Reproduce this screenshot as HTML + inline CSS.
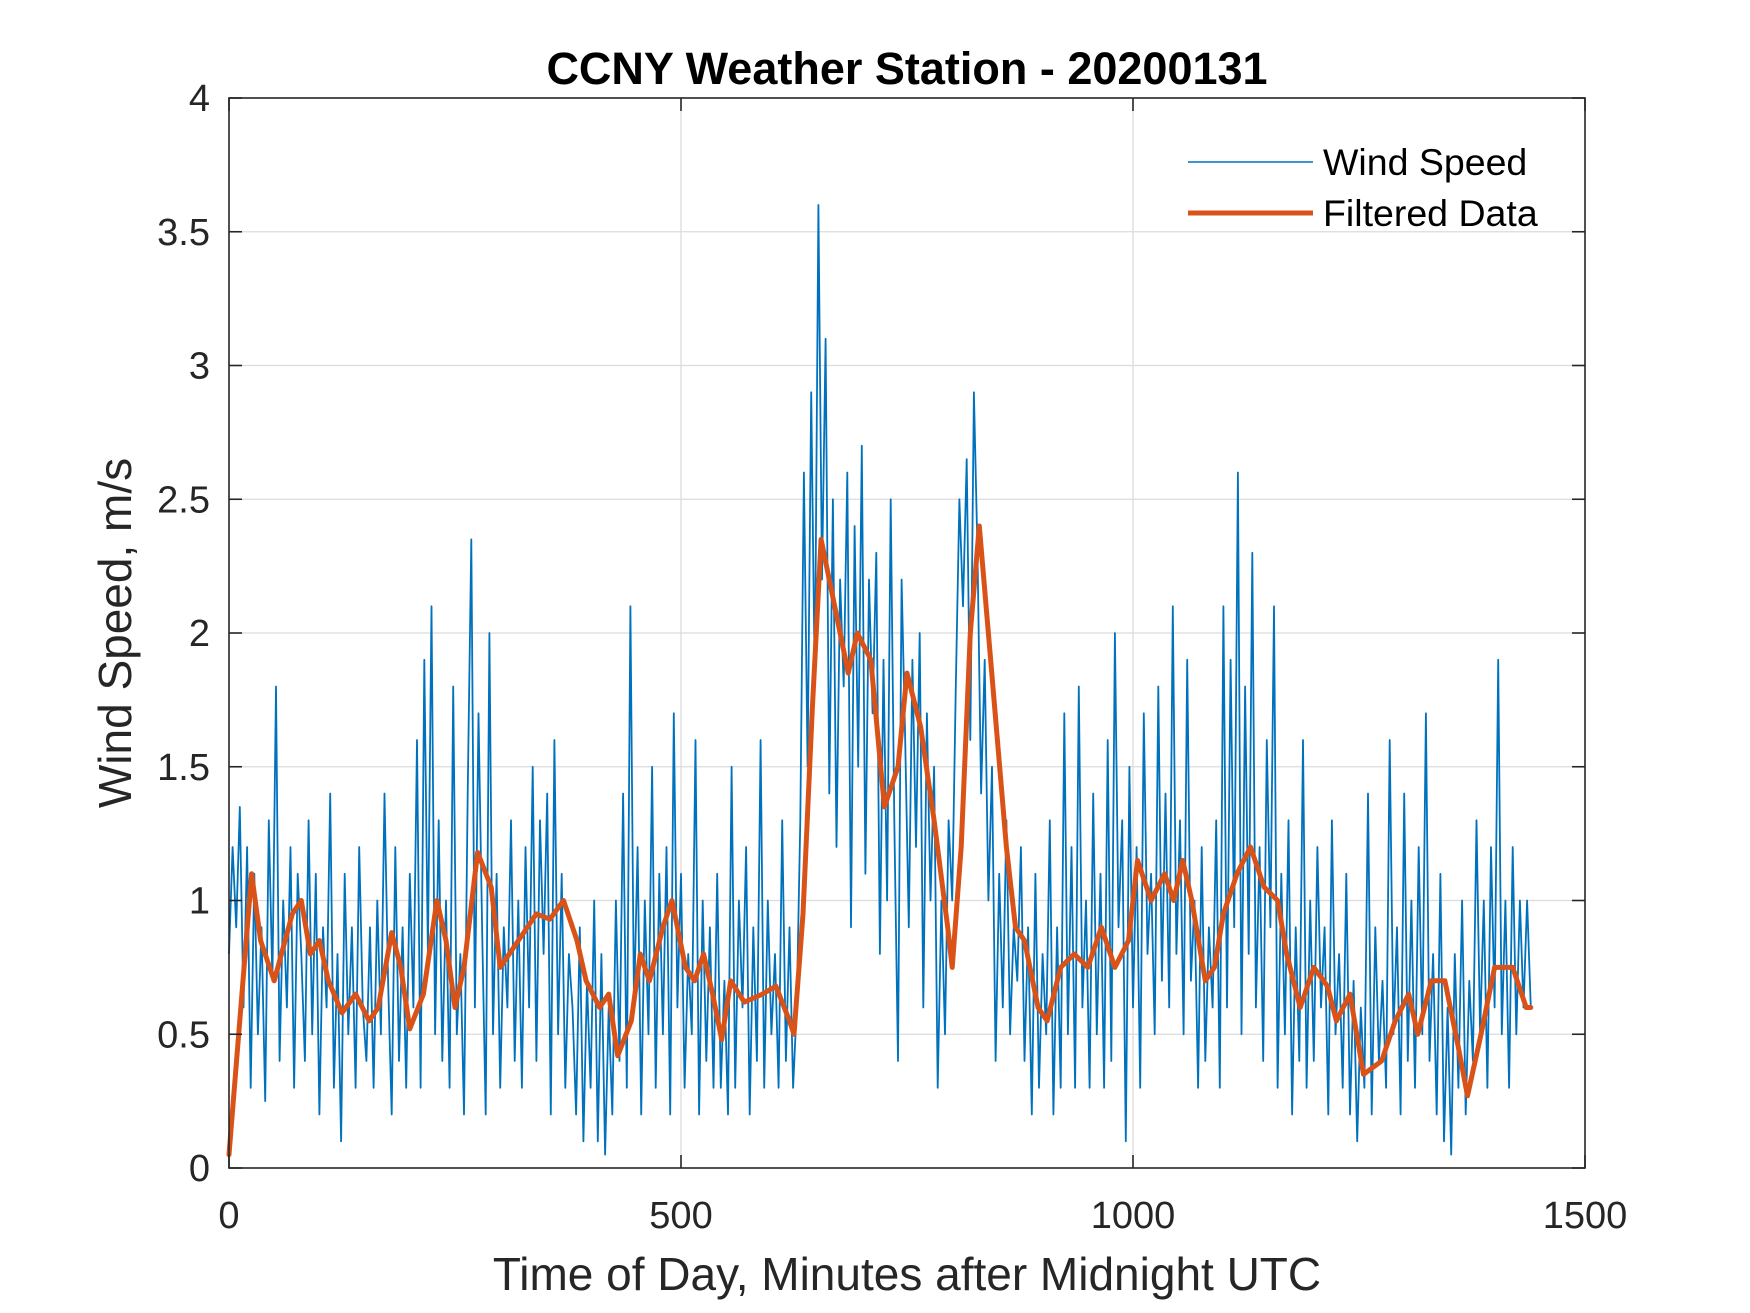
<!DOCTYPE html>
<html><head><meta charset="utf-8"><style>
html,body{margin:0;padding:0;background:#fff;}
svg{display:block;font-family:"Liberation Sans",Arial,sans-serif;}
</style></head><body>
<svg id="chart" width="1750" height="1313" viewBox="0 0 1750 1313">
<rect x="0" y="0" width="1750" height="1313" fill="#fff"/>
<g id="grid"></g>
<g id="series"></g>
<rect x="229" y="98" width="1356" height="1070" fill="none" stroke="#262626" stroke-width="1.6"/>
<g id="ticks"></g>
<text x="907" y="84" text-anchor="middle" font-size="45" font-weight="bold" fill="#000">CCNY Weather Station - 20200131</text>
<text x="907" y="1290" text-anchor="middle" font-size="46" fill="#262626">Time of Day, Minutes after Midnight UTC</text>
<text transform="translate(131,633) rotate(-90)" text-anchor="middle" font-size="46" fill="#262626">Wind Speed, m/s</text>
<g>
<line x1="1188" y1="162" x2="1313" y2="162" stroke="#0072BD" stroke-width="1.6"/>
<text x="1323" y="175" font-size="37.5" fill="#000">Wind Speed</text>
<line x1="1188" y1="213" x2="1313" y2="213" stroke="#D95319" stroke-width="5"/>
<text x="1323" y="226" font-size="37.5" fill="#000">Filtered Data</text>
</g>
</svg>
<script>
const xTicks=[0,500,1000,1500];
const yTicks=[0,0.5,1,1.5,2,2.5,3,3.5,4];
const yTickLabels=["0","0.5","1","1.5","2","2.5","3","3.5","4"];
const windStep=4;
const windValues=[
0.8,1.2,0.9,1.35,0.6,1.2,0.3,1.1,0.5,0.9,0.25,1.3,0.7,1.8,0.4,1.0,0.6,1.2,0.3,1.1,
0.8,0.4,1.3,0.5,1.1,0.2,0.9,0.6,1.4,0.3,0.8,0.1,1.1,0.5,0.9,0.3,1.2,0.6,0.4,0.9,
0.3,1.0,0.5,1.4,0.7,0.2,1.2,0.4,0.9,0.3,1.1,0.6,1.6,0.3,1.9,0.8,2.1,0.5,1.3,0.4,
1.0,0.3,1.8,0.5,0.8,0.2,1.4,2.35,0.6,1.7,0.9,0.2,2.0,0.5,1.1,0.3,0.9,0.6,1.3,0.4,
1.0,0.3,1.2,0.6,1.5,0.4,1.3,0.8,1.4,0.2,1.6,0.5,1.1,0.3,0.8,0.6,0.2,0.9,0.1,0.7,
0.3,1.0,0.1,0.8,0.05,0.6,0.2,1.0,0.4,1.4,0.3,2.1,0.6,1.2,0.2,1.0,0.5,1.5,0.3,1.1,
0.5,1.2,0.2,1.7,0.6,1.1,0.3,0.8,0.5,1.6,0.2,1.0,0.4,0.9,0.3,1.1,0.3,0.7,0.2,1.5,
0.3,1.0,0.6,1.2,0.2,0.9,0.4,1.6,0.3,1.0,0.5,0.8,0.3,1.3,0.4,0.9,0.3,0.6,1.3,2.6,
1.5,2.9,1.8,3.6,2.2,3.1,1.4,2.5,1.2,2.2,1.8,2.6,0.9,2.4,1.5,2.7,1.1,2.2,1.7,2.3,
0.8,1.9,1.0,2.5,1.3,0.4,2.2,1.6,0.9,1.9,1.2,2.0,0.6,1.7,1.0,1.5,0.3,1.0,0.5,1.3,
1.0,1.8,2.5,2.1,2.65,1.6,2.9,2.3,1.4,1.9,1.0,1.5,0.4,1.1,0.6,1.3,0.5,0.9,0.7,1.2,
0.4,0.9,0.2,1.1,0.3,0.8,0.5,1.3,0.2,0.9,0.3,1.7,0.5,1.2,0.3,1.8,0.6,1.0,0.3,1.4,
0.5,1.1,0.3,1.6,0.4,2.0,0.9,1.3,0.1,1.5,0.6,1.2,0.3,1.7,0.8,1.1,0.5,1.8,0.7,1.4,
0.6,2.1,0.8,1.3,0.5,1.9,0.7,1.0,0.3,1.2,0.4,0.9,0.6,1.3,0.3,2.1,0.6,1.9,0.9,2.6,
0.5,1.8,0.8,2.3,0.6,1.2,0.4,1.6,0.9,2.1,0.3,1.1,0.5,1.3,0.2,0.9,0.4,1.6,0.3,1.0,
0.4,1.2,0.6,0.9,0.2,1.3,0.5,0.8,0.3,1.1,0.2,0.7,0.1,0.6,0.3,1.4,0.2,0.9,0.4,0.7,
0.3,1.6,0.5,0.9,0.2,1.4,0.4,1.0,0.3,1.2,0.5,1.7,0.4,0.8,0.2,1.1,0.1,0.6,0.05,0.8,
0.3,1.0,0.2,0.7,0.4,1.3,0.5,1.0,0.3,1.2,0.6,1.9,0.5,1.0,0.3,1.2,0.5,1.0,0.6,1.0,
0.6];
const filteredTimes=[0,25,35,50,70,80,90,100,110,125,140,155,165,180,190,200,215,230,240,250,260,275,290,300,320,340,355,370,385,395,410,420,430,445,455,465,480,490,505,515,525,535,545,555,570,590,605,620,625,635,645,655,670,685,695,710,725,740,750,765,780,795,800,810,820,830,845,860,870,880,895,905,920,935,950,965,980,995,1005,1020,1035,1045,1055,1065,1080,1090,1100,1115,1130,1145,1160,1170,1185,1200,1215,1225,1240,1255,1275,1290,1305,1315,1330,1345,1360,1370,1385,1400,1420,1435,1440];
const filteredValues=[0.05,1.1,0.85,0.7,0.95,1.0,0.8,0.85,0.7,0.58,0.65,0.55,0.6,0.88,0.75,0.52,0.65,1.0,0.85,0.6,0.75,1.18,1.05,0.75,0.85,0.95,0.93,1.0,0.85,0.7,0.6,0.65,0.42,0.55,0.8,0.7,0.9,1.0,0.75,0.7,0.8,0.65,0.48,0.7,0.62,0.65,0.68,0.55,0.5,0.95,1.7,2.35,2.1,1.85,2.0,1.9,1.35,1.5,1.85,1.65,1.3,0.9,0.75,1.2,2.0,2.4,1.8,1.2,0.9,0.85,0.6,0.55,0.75,0.8,0.75,0.9,0.75,0.85,1.15,1.0,1.1,1.0,1.15,1.0,0.7,0.75,0.95,1.1,1.2,1.05,1.0,0.8,0.6,0.75,0.68,0.55,0.65,0.35,0.4,0.55,0.65,0.5,0.7,0.7,0.45,0.27,0.5,0.75,0.75,0.6,0.6];

const X0=229,X1=1585,Y0=1168,Y1=98;
function xs(v){return X0+(v-0)/(1500-0)*(X1-X0);}
function ys(v){return Y0-(v-0)/(4-0)*(Y0-Y1);}
const NS="http://www.w3.org/2000/svg";
const grid=document.getElementById('grid'),ticks=document.getElementById('ticks'),series=document.getElementById('series');
function mk(tag,attrs,parent){const e=document.createElementNS(NS,tag);for(const k in attrs)e.setAttribute(k,attrs[k]);parent.appendChild(e);return e;}
xTicks.forEach(function(t){
  const x=xs(t);
  if(t>0&&t<1500){const g=mk('line',{x1:x,y1:Y1,x2:x,y2:Y0,stroke:'#dcdcdc','stroke-width':1.3},grid);
  
  }
  const a=mk('line',{x1:x,y1:Y0,x2:x,y2:Y0-13,stroke:'#262626','stroke-width':1.6},ticks);
  
  
  const b=mk('line',{x1:x,y1:Y1,x2:x,y2:Y1+13,stroke:'#262626','stroke-width':1.6},ticks);
  
  
  const l=mk('text',{x:x,y:1228,'text-anchor':'middle','font-size':38,fill:'#262626'},ticks);
  l.textContent=String(t);
  
  
});
yTicks.forEach(function(t,i){
  const y=ys(t);
  if(t>0&&t<4){const g=mk('line',{x1:X0,y1:y,x2:X1,y2:y,stroke:'#dcdcdc','stroke-width':1.3},grid);
  
  }
  const a=mk('line',{x1:X0,y1:y,x2:X0+13,y2:y,stroke:'#262626','stroke-width':1.6},ticks);
  
  
  const b=mk('line',{x1:X1,y1:y,x2:X1-13,y2:y,stroke:'#262626','stroke-width':1.6},ticks);
  
  
  const l=mk('text',{x:210,y:y+13,'text-anchor':'end','font-size':38,fill:'#262626'},ticks);
  l.textContent=yTickLabels[i];
  
  
});
let d='';
windValues.forEach(function(v,i){d+=(i?'L':'M')+xs(i*windStep).toFixed(1)+' '+ys(v).toFixed(1);});
const w=mk('path',{d:d,fill:'none',stroke:'#0072BD','stroke-width':1.8,'stroke-linejoin':'round'},series);


let d2='';
filteredValues.forEach(function(v,i){d2+=(i?'L':'M')+xs(filteredTimes[i]).toFixed(1)+' '+ys(v).toFixed(1);});
const f=mk('path',{d:d2,fill:'none',stroke:'#D95319','stroke-width':5,'stroke-linejoin':'round','stroke-linecap':'round'},series);


</script>
</body></html>
